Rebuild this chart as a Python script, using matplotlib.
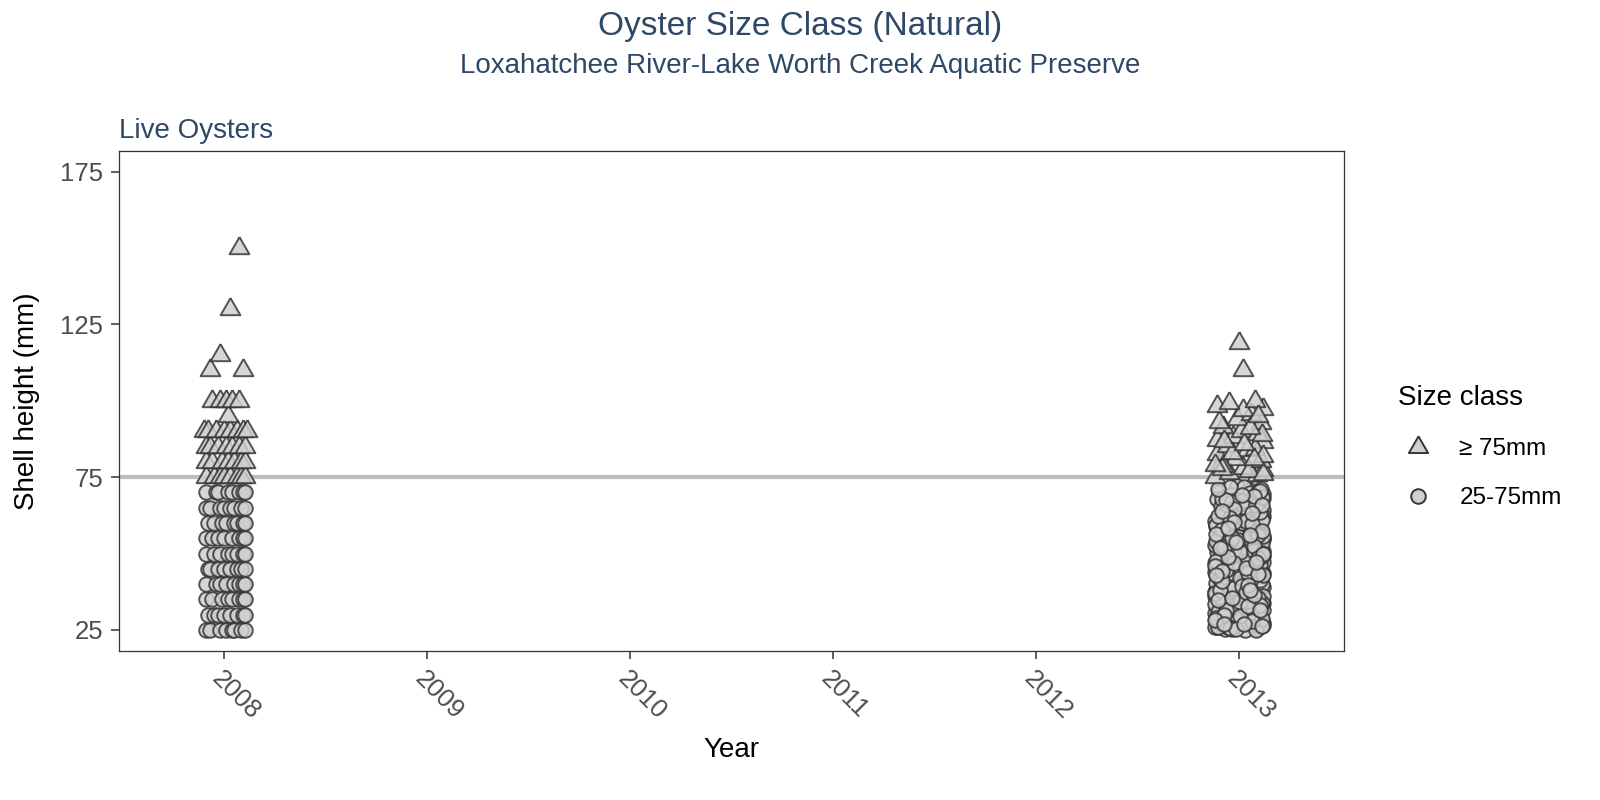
import matplotlib
matplotlib.use("Agg")
import matplotlib.pyplot as plt
from matplotlib.lines import Line2D

plt.rcParams['font.family'] = ['Liberation Sans', 'DejaVu Sans']

TITLE = 'Oyster Size Class (Natural)'
SUBTITLE = 'Loxahatchee River-Lake Worth Creek Aquatic Preserve'
PANEL = 'Live Oysters'
YEARS = [2008, 2009, 2010, 2011, 2012, 2013]
Y_TICKS = [25, 75, 125, 175]
LIMIT = 75
CLASSES = ['≥ 75mm', '25-75mm']

h08_small = ([25] * 8 + [30] * 8 + [35] * 8 + [40] * 8 + [45] * 8 +
             [50] * 8 + [55] * 8 + [60] * 8 + [65] * 8 + [70] * 8)
jit08_small = [-0.09, -0.07, -0.02, 0.01, 0.04, 0.05, 0.08, 0.10,
               -0.08, -0.05, -0.03, 0.00, 0.03, 0.06, 0.09, 0.10,
               -0.09, -0.06, -0.01, 0.02, 0.04, 0.07, 0.09, 0.10,
               -0.09, -0.04, -0.02, 0.01, 0.05, 0.07, 0.09, 0.10,
               -0.08, -0.07, -0.03, 0.00, 0.03, 0.06, 0.08, 0.10,
               -0.09, -0.05, -0.02, 0.02, 0.04, 0.06, 0.09, 0.10,
               -0.09, -0.06, -0.03, 0.00, 0.04, 0.07, 0.09, 0.10,
               -0.08, -0.05, -0.01, 0.01, 0.05, 0.06, 0.09, 0.10,
               -0.09, -0.07, -0.02, 0.00, 0.03, 0.05, 0.08, 0.10,
               -0.09, -0.04, -0.03, 0.02, 0.04, 0.07, 0.09, 0.10]
h08_large = ([75] * 8 + [80] * 7 + [85] * 7 + [90] * 8 + [95] +
             [100] * 5 + [110, 110, 115, 130, 150])
jit08_large = [-0.09, -0.05, -0.02, 0.00, 0.03, 0.06, 0.08, 0.10,
               -0.09, -0.06, -0.01, 0.02, 0.05, 0.08, 0.10,
               -0.09, -0.07, -0.03, 0.01, 0.04, 0.07, 0.10,
               -0.10, -0.08, -0.04, 0.00, 0.03, 0.06, 0.09, 0.11,
               0.02,
               -0.06, -0.02, 0.01, 0.04, 0.07,
               -0.07, 0.09, -0.02, 0.03, 0.07]

# 2013: continuous measurements
h13_small = [26.1, 48.3, 33.7, 61.2, 29.4, 55.8, 40.2, 67.5, 37.1, 44.6,
             52.4, 27.8, 70.3, 35.5, 46.9, 31.2, 58.7, 42.8, 64.1, 25.6,
             38.9, 50.6, 28.3, 66.2, 43.5, 56.9, 32.6, 71.4, 47.7, 36.2,
             60.3, 26.9, 53.8, 39.6, 68.8, 30.5, 45.2, 62.7, 34.4, 49.1,
             27.2, 57.6, 41.3, 72.0, 35.9, 51.7, 29.9, 64.9, 44.1, 54.3,
             37.8, 25.3, 59.4, 47.0, 31.8, 69.6, 42.1, 55.1, 28.7, 63.5,
             50.0, 33.1, 66.8, 39.2, 57.0, 26.5, 46.3, 70.9, 36.7, 52.9,
             30.1, 61.9, 43.9, 25.9, 54.9, 40.7, 67.9, 32.3, 48.8, 58.2,
             35.0, 45.8, 27.5, 62.3, 38.4, 51.2, 29.1, 65.6, 41.9, 56.4,
             34.0, 69.1, 47.4, 26.3, 59.9, 37.4, 53.3, 30.9, 44.9, 71.1,
             28.0, 49.6, 63.0, 40.0, 33.4, 57.9, 46.1, 25.1, 68.3, 42.4,
             31.5, 55.4, 38.1, 60.8, 27.0, 51.0, 36.4, 65.0, 44.3, 29.6,
             40.5, 62.8, 27.6, 53.0, 34.8, 66.5, 45.5, 30.3, 58.5, 49.9,
             71.7, 36.9, 43.2, 25.4, 60.0, 39.9, 55.0, 28.9, 64.4, 47.9,
             33.0, 69.9, 51.5, 26.7, 45.0, 61.5, 37.6, 56.7, 42.7, 67.2,
             29.3, 53.6, 35.7, 63.8, 48.0, 25.0, 58.9, 41.5, 70.0, 32.0,
             46.6, 27.3, 65.3, 39.0, 54.1, 30.7, 61.0, 44.0, 36.0, 50.4,
             68.0, 31.0, 57.2, 43.0, 26.0, 52.2, 38.7, 63.7, 47.2, 34.6,
             59.2, 28.5, 71.9, 49.3, 41.0, 55.7, 33.9, 66.0, 25.8, 44.7,
             37.0, 62.1, 50.8, 29.0, 56.1, 42.0, 68.6, 34.3, 46.8, 60.5,
             43.6, 27.9, 58.0, 35.3, 66.9, 50.2, 31.4, 62.4, 39.4, 54.6,
             25.5, 47.6, 70.6, 37.3, 52.6, 29.7, 64.7, 41.7, 56.3, 33.2,
             68.9, 45.4, 26.4, 59.6, 38.2, 49.0, 32.8, 61.7, 43.4, 55.2,
             30.0, 65.8, 40.9, 53.9, 28.1, 48.5, 36.5, 67.7, 57.4, 34.9,
             46.0, 71.3, 25.2, 51.9, 39.8, 60.2, 31.6, 44.4, 63.2, 27.1,
             56.0, 35.6, 49.8, 69.3, 42.9, 26.8, 58.3, 38.0, 64.0, 47.3]
jit13_small = [-0.11, 0.05, 0.12, -0.03, 0.08, -0.09, 0.01, 0.10, -0.06, 0.03,
               0.11, -0.04, -0.10, 0.07, -0.12, 0.00, 0.04, -0.07, 0.12, 0.09,
               0.06, -0.11, 0.10, 0.02, 0.12, -0.02, -0.08, 0.08, -0.05, -0.12,
               0.09, 0.02, 0.03, -0.10, -0.06, -0.12, 0.10, -0.08, 0.05, 0.12,
               0.12, 0.11, -0.04, -0.01, -0.09, -0.06, 0.06, 0.04, -0.12, 0.08,
               0.01, -0.07, -0.11, 0.07, 0.11, 0.12, 0.09, 0.12, -0.01, -0.03,
               -0.09, -0.05, -0.07, 0.12, -0.02, 0.06, -0.08, 0.05, 0.10, -0.12,
               -0.10, 0.07, 0.11, -0.12, 0.12, -0.06, -0.11, 0.03, 0.02, -0.05,
               0.04, -0.03, 0.05, 0.12, -0.11, 0.04, -0.02, -0.09, 0.08, 0.10,
               -0.08, -0.04, 0.12, 0.11, 0.01, -0.12, -0.10, 0.10, 0.00, 0.11,
               -0.06, 0.08, 0.03, 0.09, -0.12, 0.07, -0.11, 0.03, 0.12, -0.09,
               0.12, 0.00, -0.07, -0.12, -0.09, 0.12, 0.09, -0.05, 0.06, -0.03,
               -0.115, 0.095, 0.035, -0.045, 0.115, -0.015, 0.065, -0.085, 0.105, -0.035,
               0.025, -0.115, 0.085, -0.035, -0.065, 0.115, 0.045, 0.095, -0.015, -0.095,
               0.075, 0.055, -0.025, 0.12, -0.105, 0.115, 0.025, -0.075, -0.055, 0.015,
               -0.025, 0.115, -0.095, -0.065, 0.045, 0.085, -0.115, 0.105, 0.095, -0.045,
               0.105, -0.095, 0.025, -0.045, -0.115, 0.065, 0.115, 0.035, 0.12, 0.005,
               -0.085, -0.105, 0.085, 0.12, -0.055, -0.075, -0.025, 0.105, -0.105, 0.045,
               -0.115, 0.115, -0.045, 0.115, 0.055, 0.12, 0.115, 0.085, -0.105, -0.065,
               -0.12, -0.025, 0.075, -0.115, 0.095, 0.005, 0.115, 0.005, -0.025, 0.035,
               0.045, 0.065, -0.085, 0.095, -0.035, 0.115, -0.065, -0.105, 0.015, -0.005,
               -0.045, -0.115, 0.105, 0.035, 0.075, 0.005, -0.025, -0.095, -0.115, 0.105,
               0.075, 0.035, 0.115, 0.065, -0.095, -0.055, 0.045, -0.045, 0.095, -0.035,
               -0.075, 0.115, -0.085, -0.015, -0.12, 0.095, 0.075, -0.065, 0.115, -0.105,
               -0.12, -0.105, -0.015, -0.095, 0.045, -0.025, 0.105, -0.085, 0.065, 0.025,
               0.055, -0.035, 0.12, 0.015, -0.115, -0.075, -0.055, 0.055, -0.085, 0.085]
h13_large = [75.2, 76.5, 78.1, 75.8, 77.3, 79.6, 81.0, 76.9, 80.2, 82.7,
             83.9, 85.1, 78.8, 86.4, 84.3, 88.0, 87.2, 90.1, 81.8, 89.3,
             91.5, 92.8, 94.2, 93.0, 95.6, 96.9, 98.3, 97.4, 100.0, 99.2,
             76.0, 77.8, 80.9, 83.0, 85.9, 88.8, 91.0, 79.0, 86.9, 94.9,
             110.0, 118.8]
jit13_large = [-0.12, -0.05, 0.02, 0.09, 0.12, -0.09, -0.02, 0.05, 0.11, -0.11,
               0.04, -0.06, -0.08, 0.12, 0.08, -0.03, -0.11, 0.01, 0.12, 0.09,
               -0.08, 0.11, -0.01, -0.10, 0.06, 0.02, -0.11, 0.12, 0.08, -0.05,
               0.12, -0.085, 0.075, -0.035, 0.025, 0.115, 0.055, -0.12, -0.075, 0.095,
               0.02, 0.00]

TITLE_COL = '#2E4868'
FILL = '#cfcfcf'
EDGE = '#363636'
# equilateral triangle like ggplot shape 24
TRI = [(0, 1.155), (-1, -0.577), (1, -0.577), (0, 1.155)]


def scatter_group(ax, year, heights, jit, marker, size):
    x = [year + j for j in jit]
    ax.scatter(x, heights, marker=marker, s=size, facecolor=FILL, edgecolor=EDGE,
               linewidths=1.4, alpha=0.85, zorder=3)


def main():
    fig = plt.figure(figsize=(16, 8), dpi=100)
    ax = fig.add_axes([119 / 1600, 149 / 800, 1225 / 1600, 500 / 800])

    ax.axhline(LIMIT, color='#bebebe', lw=3, zorder=1)
    scatter_group(ax, 2008, h08_small, jit08_small, 'o', 110)
    scatter_group(ax, 2008, h08_large, jit08_large, TRI, 270)
    scatter_group(ax, 2013, h13_small, jit13_small, 'o', 110)
    scatter_group(ax, 2013, h13_large, jit13_large, TRI, 270)

    ax.set_xlim(2007.481, 2013.517)
    ax.set_ylim(18.1, 181.8)
    ax.set_xticks(YEARS)
    ax.set_yticks(Y_TICKS)
    ax.set_xticklabels([str(y) for y in YEARS], rotation=-45, ha='left', va='top',
                       rotation_mode='anchor')
    ax.tick_params(axis='both', colors='#333333', labelcolor='#4d4d4d', labelsize=18.5,
                   length=5.5, width=1.1, pad=6)
    for s in ax.spines.values():
        s.set_color('#333333')
        s.set_linewidth(0.9)

    ax.set_xlabel('Year', fontsize=20, labelpad=9)
    ax.set_ylabel('Shell height (mm)', fontsize=20, labelpad=14)
    ax.set_title(PANEL, loc='left', fontsize=20, color=TITLE_COL, pad=9)

    fig.text(0.5, 1 - 27 / 800, TITLE, ha='center', va='center', fontsize=24, color=TITLE_COL)
    fig.text(0.5, 1 - 66 / 800, SUBTITLE, ha='center', va='center', fontsize=20, color=TITLE_COL)

    handles = [Line2D([], [], ls='none', marker=TRI, ms=16, mfc=FILL, mec=EDGE, mew=1.4),
               Line2D([], [], ls='none', marker='o', ms=10.5, mfc=FILL, mec=EDGE, mew=1.4)]
    leg = fig.legend(handles, CLASSES, title='Size class', loc='upper left',
                     bbox_to_anchor=(1381 / 1600, 1 - 368 / 800), frameon=False,
                     fontsize=17.5, title_fontsize=20, labelspacing=1.12, handlelength=1.68,
                     handletextpad=0.84, borderpad=0.2)
    leg._legend_box.align = 'left'

    fig.savefig('out.png', dpi=100)


if __name__ == '__main__':
    main()
